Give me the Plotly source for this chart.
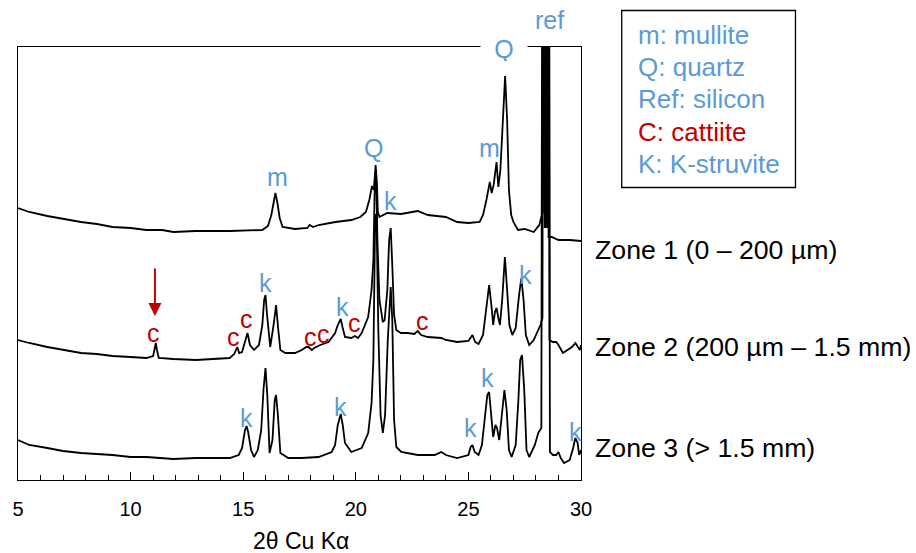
import plotly.graph_objects as go

# ---------------- data (2θ in degrees, intensity in arbitrary stacked units) ----------------
zone1_tt = [5.0, 5.5, 6.3, 7.0, 7.8, 8.5, 9.2, 10.0, 10.7, 11.4, 11.9, 12.9, 14.4, 15.85, 16.1, 16.25, 16.35,
            16.43, 16.52, 16.62, 16.75, 17.3, 17.85, 17.95, 18.1, 18.35, 19.1, 19.8, 20.2, 20.45, 20.6, 20.72,
            20.8, 20.88, 20.94, 20.98, 21.05, 21.4, 22.0, 22.75, 23.2, 23.8, 24.0, 24.5, 25.0, 25.5, 25.65, 25.8,
            25.95, 26.03, 26.12, 26.25, 26.33, 26.42, 26.55, 26.63, 26.72, 26.8, 26.9, 27.0, 27.2, 27.5, 27.9,
            28.15, 28.3, 28.36, 28.385, 28.41, 28.435, 28.46, 28.485, 28.51, 28.56, 28.7, 29.0, 29.5, 30.0]
zone1_int = [272, 268, 264, 261, 258, 256, 253, 252, 250, 250, 248, 249, 249, 250, 254, 265, 280,
             287, 277, 262, 253, 251, 252, 255, 253, 255, 258, 260, 263, 268, 280, 294,
             290, 315, 295, 268, 263, 267, 266, 269, 265, 263, 263, 258, 257, 258, 265, 280,
             298, 287, 295, 318, 293, 310, 370, 404, 360, 290, 265, 258, 250, 251, 248,
             255, 268, 1000, 252, 1000, 252, 1000, 252, 1000, 243, 243, 240, 240, 239]

zone2_tt = [5.0, 5.5, 6.3, 7.0, 7.8, 8.5, 9.2, 10.0, 10.7, 11.0, 11.08, 11.12, 11.17, 11.25, 11.9, 12.9, 14.4,
            14.6, 14.74, 14.82, 14.95, 15.08, 15.19, 15.3, 15.48, 15.7, 15.85, 15.93, 15.99, 16.06, 16.2, 16.35,
            16.46, 16.55, 16.65, 16.87, 17.3, 17.6, 17.8, 17.9, 18.05, 18.15, 18.42, 18.79, 19.08, 19.2, 19.33,
            19.42, 19.52, 19.8, 19.96, 20.1, 20.26, 20.55, 20.7, 20.78, 20.85, 20.9, 20.96, 21.05, 21.2, 21.28,
            21.4, 21.48, 21.55, 21.62, 21.7, 21.8, 22.0, 22.3, 22.6, 22.75, 22.9, 23.2, 23.8, 24.0, 24.5, 25.0,
            25.18, 25.3, 25.45, 25.65, 25.78, 25.92, 26.02, 26.1, 26.18, 26.25, 26.33, 26.4, 26.5, 26.62, 26.72,
            26.82, 26.95, 27.1, 27.25, 27.35, 27.45, 27.55, 27.7, 27.9, 28.1, 28.2, 28.29, 28.33, 28.55, 28.6,
            28.75, 28.9, 29.0, 29.2, 29.4, 29.6, 29.75, 29.85, 29.95, 30.0]
zone2_int = [140, 137, 133, 130, 127, 126, 124, 123, 122, 124, 132, 137, 130, 122, 121, 120, 122,
             126, 133, 127, 128, 140, 147, 135, 130, 135, 155, 180, 185, 165, 133, 155,
             175, 152, 130, 127, 127, 130, 133, 133, 130, 132, 135, 138, 147, 155, 161,
             152, 143, 142, 144, 142, 147, 163, 190, 220, 305, 310, 240, 180, 158, 160,
             190, 240, 252, 215, 165, 150, 147, 147, 146, 149, 145, 143, 142, 140, 138, 139,
             145, 138, 136, 145, 170, 195, 175, 155, 168, 172, 162, 155, 180, 223, 190,
             155, 145, 152, 185, 202, 180, 145, 135, 140, 150, 155, 162, 1000, 1000, 140,
             138, 138, 135, 127, 130, 133, 137, 133, 130, 135]

zone3_tt = [5.0, 5.5, 6.3, 7.0, 7.8, 8.5, 9.2, 10.0, 10.7, 11.9, 12.9, 14.4, 14.8, 14.95, 15.08, 15.15, 15.22,
            15.35, 15.48, 15.65, 15.8, 15.9, 15.99, 16.07, 16.17, 16.3, 16.4, 16.46, 16.54, 16.65, 17.0, 17.6,
            18.35, 18.93, 19.08, 19.2, 19.33, 19.42, 19.52, 19.8, 20.26, 20.55, 20.7, 20.78, 20.86, 20.92, 21.0,
            21.1, 21.2, 21.3, 21.42, 21.55, 21.62, 21.7, 21.8, 22.02, 22.75, 23.5, 23.8, 24.0, 24.5, 25.0, 25.1,
            25.18, 25.28, 25.45, 25.6, 25.72, 25.84, 25.92, 26.02, 26.1, 26.2, 26.27, 26.37, 26.47, 26.6, 26.7,
            26.8, 26.92, 27.1, 27.22, 27.3, 27.38, 27.48, 27.58, 27.7, 27.95, 28.1, 28.24, 28.31, 28.56, 28.62,
            28.75, 28.9, 29.0, 29.1, 29.25, 29.5, 29.65, 29.75, 29.85, 29.92, 30.0]
zone3_int = [40, 35, 32, 29, 27, 26, 25, 23, 23, 21, 22, 22, 25, 32, 50, 54, 48,
             30, 23, 30, 50, 90, 112, 85, 27, 40, 80, 85, 65, 27, 22, 22,
             23, 28, 35, 55, 66, 55, 37, 28, 32, 47, 77, 120, 265, 265, 150,
             65, 47, 65, 140, 193, 160, 60, 33, 28, 25, 25, 28, 25, 22, 25, 33,
             35, 28, 25, 35, 60, 85, 88, 60, 43, 55, 52, 40, 65, 90, 70,
             30, 23, 35, 80, 120, 125, 90, 30, 23, 35, 47, 52, 1000, 1000, 28,
             25, 25, 28, 22, 17, 20, 32, 42, 37, 25, 30]

zone_names = ["Zone 1 (0 – 200 µm)", "Zone 2 (200 µm – 1.5 mm)", "Zone 3 (> 1.5 mm)"]
zone_label_y = [230, 133, 32]

x_ticks = [5, 10, 15, 20, 25, 30]

# phase labels: (text, 2θ, intensity level, colour key)
phase_labels = [
    ("m", 16.51, 303, "b"), ("Q", 20.78, 332, "b"), ("k", 21.53, 279, "b"), ("m", 25.94, 332, "b"),
    ("c", 11.0, 147, "r"), ("c", 14.57, 143, "r"), ("c", 15.14, 161, "r"), ("k", 15.98, 197, "b"),
    ("c", 18.0, 143, "r"), ("c", 18.58, 146, "r"), ("k", 19.42, 173, "b"), ("c", 19.95, 157, "r"),
    ("c", 22.95, 159, "r"), ("k", 27.53, 205, "b"),
    ("k", 15.14, 62, "b"), ("k", 19.33, 73, "b"), ("k", 25.1, 52, "b"), ("k", 25.86, 102, "b"),
    ("k", 29.74, 48, "b"),
]

legend_lines = [("m: mullite", "b"), ("Q: quartz", "b"), ("Ref: silicon", "b"),
                ("C: cattiite", "r"), ("K: K-struvite", "b")]

# ---------------- figure ----------------
BLUE = "#5B9BD5"
RED = "#C00000"
COL = {"b": BLUE, "r": RED}
FONT = "Liberation Sans, Arial, sans-serif"

fig = go.Figure()
for tt, inten in [(zone1_tt, zone1_int), (zone2_tt, zone2_int), (zone3_tt, zone3_int)]:
    fig.add_trace(go.Scatter(x=tt, y=inten, mode="lines",
                             line=dict(color="black", width=1.8), showlegend=False, hoverinfo="skip"))

W, H = 916, 553
L, R, T, B = 14, 335, 47, 73
pw, ph = W - L - R, H - T - B


def px2paper(px, py):
    return (px - L) / pw, (H - B - py) / ph


ann = []
for txt, x, y, c in phase_labels:
    ann.append(dict(x=x, y=y, xref="x", yref="y", text=txt, showarrow=False,
                    xanchor="center", yanchor="middle",
                    font=dict(family=FONT, size=25, color=COL[c])))

# red arrow pointing at the first cattiite peak
ann.append(dict(x=11.08, y=164, xref="x", yref="y", text="", showarrow=True, ax=0, ay=-49,
                arrowhead=2, arrowsize=1.3, arrowwidth=2, arrowcolor=RED))

# Q label sitting on the top frame, and ref above the frame
qx, qy = px2paper(503, 49)
ann.append(dict(x=qx, y=qy, xref="paper", yref="paper", text="Q", showarrow=False, bgcolor="white",
                xanchor="center", yanchor="middle",
                width=44, height=24, font=dict(family=FONT, size=25, color=BLUE)))
rx, ry = px2paper(549, 20)
ann.append(dict(x=rx, y=ry, xref="paper", yref="paper", text="ref", showarrow=False,
                xanchor="center", yanchor="middle",
                font=dict(family=FONT, size=25, color=BLUE)))

# zone labels
for name, y in zip(zone_names, zone_label_y):
    zx, _ = px2paper(593, 0)
    ann.append(dict(x=zx, y=y, xref="paper", yref="y", text=name, showarrow=False,
                    xanchor="left", yanchor="middle",
                    font=dict(family=FONT, size=26.7, color="black")))

# legend box
legend_py = [35, 67, 99, 132, 164]
for (txt, c), py in zip(legend_lines, legend_py):
    lx, ly = px2paper(636, py)
    ann.append(dict(x=lx, y=ly, xref="paper", yref="paper", text=txt, showarrow=False,
                    xanchor="left", yanchor="middle",
                    font=dict(family=FONT, size=26, color=COL[c])))
bx0, by0 = px2paper(622, 187.5)
bx1, by1 = px2paper(797, 10.5)

# axis title
tx, ty = px2paper(299, 541)
ann.append(dict(x=tx, y=ty, xref="paper", yref="paper", text="2θ Cu Kα", showarrow=False,
                xanchor="center", yanchor="middle",
                font=dict(family=FONT, size=23, color="black")))

fig.update_layout(
    width=W, height=H, margin=dict(l=L, r=R, t=T, b=B, pad=0),
    paper_bgcolor="white", plot_bgcolor="white",
    annotations=ann,
    shapes=[dict(type="rect", xref="paper", yref="paper", x0=bx0, x1=bx1, y0=by0, y1=by1,
                 line=dict(color="black", width=1.3), fillcolor="rgba(0,0,0,0)")],
    xaxis=dict(range=[5, 30], tickmode="array", tickvals=x_ticks, ticktext=[str(t) for t in x_ticks],
               ticks="inside", ticklen=8, tickwidth=1, tickcolor="black", ticklabelstandoff=11,
               minor=dict(dtick=1, tick0=5, ticks="inside", ticklen=5, tickcolor="black", tickwidth=1),
               showline=True, linecolor="black", linewidth=1.3, mirror=True, showgrid=False, zeroline=False,
               tickfont=dict(family=FONT, size=20, color="black")),
    yaxis=dict(range=[0, 433], showticklabels=False, ticks="", showline=True, linecolor="black",
               linewidth=1.3, mirror=True, showgrid=False, zeroline=False),
)

fig.write_html("out.html")
